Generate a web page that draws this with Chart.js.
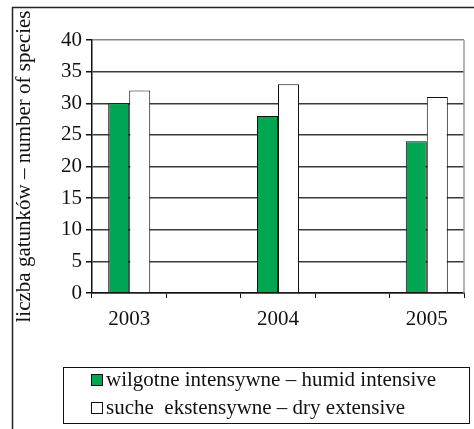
<!DOCTYPE html>
<html>
<head>
<meta charset="utf-8">
<script src="https://cdn.jsdelivr.net/npm/chart.js@4/dist/chart.umd.min.js"></script>
<style>
  html, body { margin: 0; padding: 0; background: #fff; }
  #wrap { width: 474px; height: 429px; position: relative; }
</style>
</head>
<body>
<div id="wrap"><canvas id="c" width="474" height="429"></canvas></div>
<script>
// Years with spacer slots between them
const categories = ['2003', '', '2004', '', '2005'];
const humidIntensive = [30, null, 28, null, 24];
const dryExtensive = [32, null, 33, null, 31];
const seriesNames = ['wilgotne intensywne \u2013 humid intensive', 'suche  ekstensywne \u2013 dry extensive'];
const yTicks = [0, 5, 10, 15, 20, 25, 30, 35, 40];
const yTitle = 'liczba gatunk\u00f3w \u2013 number of species';

const FONT = 'Liberation Serif, Times New Roman, serif';

const framePlugin = {
  id: 'frame',
  beforeDraw(chart) {
    const ctx = chart.ctx;
    ctx.save();
    ctx.fillStyle = '#fff';
    ctx.fillRect(0, 0, chart.width, chart.height);
    ctx.restore();
  },
  afterDatasetsDraw(chart) {
    const ctx = chart.ctx;
    const a = chart.chartArea;
    ctx.save();
    // right edge of the plot area
    ctx.strokeStyle = '#9a9a9a';
    ctx.lineWidth = 1.5;
    ctx.beginPath();
    ctx.moveTo(a.right, a.top);
    ctx.lineTo(a.right, a.bottom);
    ctx.stroke();
    ctx.restore();
  },
  afterDraw(chart) {
    const ctx = chart.ctx;
    ctx.save();
    // outer frame
    ctx.strokeStyle = '#222';
    ctx.lineWidth = 1.5;
    ctx.beginPath();
    ctx.moveTo(12.5, 440);
    ctx.lineTo(12.5, 7.5);
    ctx.lineTo(480, 7.5);
    ctx.stroke();

    // legend box
    ctx.lineWidth = 1;
    ctx.strokeStyle = '#111';
    ctx.strokeRect(63.5, 367.5, 406, 56);

    ctx.font = '21px ' + FONT;
    ctx.textBaseline = 'middle';
    ctx.textAlign = 'left';
    chart.data.datasets.forEach((ds, i) => {
      const cy = 380 + i * 28;
      ctx.fillStyle = ds.backgroundColor;
      ctx.fillRect(91.5, cy - 5.5, 11, 11);
      ctx.strokeStyle = '#111';
      ctx.strokeRect(91.5, cy - 5.5, 11, 11);
      ctx.fillStyle = '#111';
      ctx.fillText(ds.label, 106, cy);
    });
    ctx.restore();
  }
};

new Chart(document.getElementById('c'), {
  type: 'bar',
  data: {
    labels: categories,
    datasets: [
      { label: seriesNames[0], data: humidIntensive, backgroundColor: '#00a651', borderColor: '#111', borderWidth: 1 },
      { label: seriesNames[1], data: dryExtensive, backgroundColor: '#ffffff', borderColor: '#111', borderWidth: 1 }
    ]
  },
  options: {
    responsive: false,
    animation: false,
    devicePixelRatio: 1,
    layout: { padding: { top: 40, right: 10, left: 0, bottom: 0 } },
    datasets: { bar: { barPercentage: 1, categoryPercentage: 0.565, skipNull: false } },
    plugins: { legend: { display: false }, tooltip: { enabled: false } },
    scales: {
      x: {
        offset: true,
        grid: { display: true, drawOnChartArea: false, drawTicks: true, tickLength: 5, tickColor: '#111', offset: true },
        border: { display: true, color: '#111', width: 1.5 },
        ticks: { color: '#111', font: { family: FONT, size: 21 }, padding: 9, autoSkip: false, maxRotation: 0 },
        afterFit(scale) { scale.height = 136; }
      },
      y: {
        min: 0, max: 40,
        afterBuildTicks(scale) { scale.ticks = yTicks.map(v => ({ value: v })); },
        grid: {
          color: ctx => (ctx.tick && ctx.tick.value === 40 ? '#8a8a8a' : '#3a3a3a'),
          lineWidth: 1.5,
          tickLength: 6, tickColor: '#111'
        },
        border: { display: true, color: '#111', width: 1.5 },
        ticks: { color: '#111', font: { family: FONT, size: 21 }, padding: 4 },
        title: { display: true, text: yTitle, color: '#111', font: { family: FONT, size: 21 }, padding: { top: 12, bottom: 0 } },
        afterFit(scale) { scale.width = 92; }
      }
    }
  },
  plugins: [framePlugin]
});
</script>
</body>
</html>
